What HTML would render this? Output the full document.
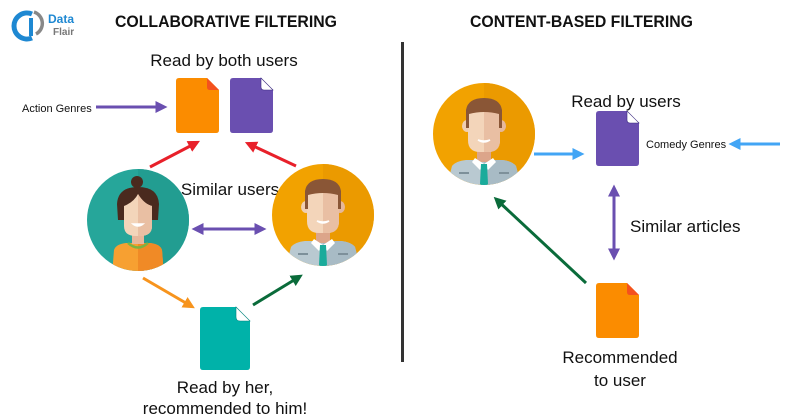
<!DOCTYPE html>
<html><head><meta charset="utf-8"><style>
html,body{margin:0;padding:0;background:#fff;}
svg{display:block;}
text{font-family:"Liberation Sans",sans-serif;fill:#111;}
</style></head><body>
<svg width="802" height="420" viewBox="0 0 802 420" xmlns="http://www.w3.org/2000/svg">
<defs>
<marker id="ap" markerWidth="4" markerHeight="4" refX="2.5" refY="2" orient="auto" markerUnits="strokeWidth"><path d="M0,0 L4,2 L0,4 z" fill="#6a4fb0"/></marker>
<marker id="aps" markerWidth="4" markerHeight="4" refX="1.5" refY="2" orient="auto-start-reverse" markerUnits="strokeWidth"><path d="M0,0 L4,2 L0,4 z" fill="#6a4fb0"/></marker>
<marker id="ar" markerWidth="4" markerHeight="4" refX="2.5" refY="2" orient="auto" markerUnits="strokeWidth"><path d="M0,0 L4,2 L0,4 z" fill="#e8202a"/></marker>
<marker id="ao" markerWidth="4" markerHeight="4" refX="2.5" refY="2" orient="auto" markerUnits="strokeWidth"><path d="M0,0 L4,2 L0,4 z" fill="#f7941d"/></marker>
<marker id="ag" markerWidth="4" markerHeight="4" refX="2.5" refY="2" orient="auto" markerUnits="strokeWidth"><path d="M0,0 L4,2 L0,4 z" fill="#0a6b3a"/></marker>
<marker id="ab" markerWidth="4" markerHeight="4" refX="2.5" refY="2" orient="auto" markerUnits="strokeWidth"><path d="M0,0 L4,2 L0,4 z" fill="#42a5f5"/></marker>
<clipPath id="cc"><circle cx="0" cy="0" r="51"/></clipPath>
<g id="man">
<circle r="51" fill="#f2a200"/>
<path d="M0,-51 A51,51 0 0 1 0,51 z" fill="#eb9a00"/>
<g clip-path="url(#cc)">
<path d="M-38,55 L-32,32 Q-28,27 -18,26 L18,26 Q28,27 32,32 L38,55 z" fill="#b9c9d1"/>
<path d="M0,26 L18,26 Q28,27 32,32 L38,55 L0,55z" fill="#a8bbc5"/>
<rect x="-7" y="12" width="14" height="16" fill="#dca58a"/>
<path d="M-9,24 L0,30 L-4,36 L-12,28z M9,24 L0,30 L4,36 L12,28z" fill="#fff"/>
<path d="M-3,30 L3,30 L4,50 L0,54 L-4,50z" fill="#1aab9b"/>
<rect x="-25" y="38" width="10" height="2" fill="#7d909a"/><rect x="15" y="38" width="10" height="2" fill="#7d909a"/>
</g>
<ellipse cx="-17" cy="-8" rx="5" ry="6" fill="#f0cfb2"/><ellipse cx="17" cy="-8" rx="5" ry="6" fill="#e6b89c"/>
<path d="M-16,-26 L16,-26 L16,6 Q16,18 4,18 L-4,18 Q-16,18 -16,6z" fill="#f3d5ba"/>
<path d="M0,-26 L16,-26 L16,6 Q16,18 4,18 L0,18z" fill="#e9bfa3"/>
<path d="M-18,-6 L-18,-24 Q-16,-36 0,-36 Q16,-36 18,-24 L18,-6 L15,-6 L15,-20 Q0,-24 -15,-20 L-15,-6z" fill="#8a5636"/>
<path d="M-6,6 Q0,10 6,6 Q0,8 -6,6z" fill="#fff" stroke="#fff" stroke-width="1.5"/>
</g>
</defs>

<!-- logo -->
<g>
<path d="M32,14 A13,13 0 1 0 32,38" fill="none" stroke="#1e88d2" stroke-width="5"/>
<path d="M31,18 L31,36" stroke="#1e88d2" stroke-width="4"/>
<path d="M34,12 A12,12 0 0 1 36,34" fill="none" stroke="#888" stroke-width="3.5"/>
<text x="48" y="23" font-size="12" font-weight="bold" style="fill:#1e88d2">Data</text>
<text x="53" y="35" font-size="10" font-weight="bold" style="fill:#777">Flair</text>
</g>

<text x="115" y="27" font-size="17" font-weight="bold" textLength="222" lengthAdjust="spacingAndGlyphs">COLLABORATIVE FILTERING</text>
<text x="470" y="27" font-size="17" font-weight="bold" textLength="223" lengthAdjust="spacingAndGlyphs">CONTENT-BASED FILTERING</text>
<rect x="401" y="42" width="3" height="320" fill="#333"/>

<!-- left -->
<text x="224" y="66" font-size="17" text-anchor="middle">Read by both users</text>
<path d="M176,81 Q176,78 179,78 L207,78 L219,90 L219,130 Q219,133 216,133 L179,133 Q176,133 176,130z" fill="#fb8c00"/>
<path d="M207,78 L219,90 L210,90 Q207,90 207,87z" fill="#f4511e"/>
<path d="M230,81 Q230,78 233,78 L261,78 L273,90 L273,130 Q273,133 270,133 L233,133 Q230,133 230,130z" fill="#6a4fb0"/>
<path d="M261,78 L273,90 L264,90 Q261,90 261,87z" fill="#fff" stroke="#3a2a80" stroke-width="0.6"/>
<text x="22" y="112" font-size="11">Action Genres</text>
<line x1="96" y1="107" x2="163" y2="107" stroke="#6a4fb0" stroke-width="3" marker-end="url(#ap)"/>
<line x1="150" y1="167" x2="196" y2="143" stroke="#e8202a" stroke-width="3" marker-end="url(#ar)"/>
<line x1="296" y1="166" x2="249" y2="144" stroke="#e8202a" stroke-width="3" marker-end="url(#ar)"/>
<text x="230" y="195" font-size="17" text-anchor="middle">Similar users</text>

<!-- woman -->
<g transform="translate(138,220)">
<circle r="51" fill="#26a69a"/>
<path d="M0,-51 A51,51 0 0 1 0,51 z" fill="#229d91"/>
<g clip-path="url(#cc)">
<path d="M-26,55 L-24,30 Q-22,24 -12,23 L12,23 Q22,24 24,30 L26,55z" fill="#f7a031"/>
<path d="M0,23 L12,23 Q22,24 24,30 L26,55 L0,55z" fill="#f08a26"/>
<path d="M-10,23 Q0,32 10,23" fill="none" stroke="#7cb342" stroke-width="2.5"/>
<rect x="-6" y="10" width="12" height="14" fill="#e6b89c"/>
</g>
<circle cx="-1" cy="-38" r="6" fill="#4a2a1e"/>
<path d="M-20,0 L-21,-16 Q-20,-33 0,-33 Q20,-33 21,-16 L20,0z" fill="#4a2a1e"/>
<path d="M-14,-14 Q-4,-18 0,-26 Q6,-16 14,-14 L14,6 Q14,16 2,16 L-2,16 Q-14,16 -14,6z" fill="#f3d5ba"/>
<path d="M0,-26 Q6,-16 14,-14 L14,6 Q14,16 2,16 L0,16z" fill="#e9bfa3"/>
<path d="M-5,4 Q0,8 5,4z" fill="#fff" stroke="#fff" stroke-width="1.5"/>
</g>
<use href="#man" transform="translate(323,215)"/>

<line x1="199" y1="229" x2="262" y2="229" stroke="#6a4fb0" stroke-width="3" marker-start="url(#aps)" marker-end="url(#ap)"/>
<line x1="143" y1="278" x2="191" y2="306" stroke="#f7941d" stroke-width="3" marker-end="url(#ao)"/>
<line x1="253" y1="305" x2="299" y2="277" stroke="#0a6b3a" stroke-width="3" marker-end="url(#ag)"/>

<path d="M200,310 Q200,307 203,307 L236,307 L250,321 L250,367 Q250,370 247,370 L203,370 Q200,370 200,367z" fill="#00b2a9"/>
<path d="M236,307 L250,321 L240,321 Q236,321 236,317z" fill="#fff" stroke="#00857d" stroke-width="0.6"/>
<text x="225" y="393" font-size="17" text-anchor="middle">Read by her,</text>
<text x="225" y="414" font-size="17" text-anchor="middle">recommended to him!</text>

<!-- right -->
<use href="#man" transform="translate(484,134)"/>
<text x="626" y="107" font-size="17" text-anchor="middle">Read by users</text>
<path d="M596,114 Q596,111 599,111 L627,111 L639,123 L639,163 Q639,166 636,166 L599,166 Q596,166 596,163z" fill="#6a4fb0"/>
<path d="M627,111 L639,123 L630,123 Q627,123 627,120z" fill="#fff" stroke="#3a2a80" stroke-width="0.6"/>
<line x1="534" y1="154" x2="580" y2="154" stroke="#42a5f5" stroke-width="3" marker-end="url(#ab)"/>
<text x="646" y="148" font-size="11">Comedy Genres</text>
<line x1="780" y1="144" x2="733" y2="144" stroke="#42a5f5" stroke-width="3" marker-end="url(#ab)"/>
<line x1="614" y1="192" x2="614" y2="256" stroke="#6a4fb0" stroke-width="3" marker-start="url(#aps)" marker-end="url(#ap)"/>
<text x="630" y="232" font-size="17">Similar articles</text>
<path d="M596,286 Q596,283 599,283 L627,283 L639,295 L639,335 Q639,338 636,338 L599,338 Q596,338 596,335z" fill="#fb8c00"/>
<path d="M627,283 L639,295 L630,295 Q627,295 627,292z" fill="#f4511e"/>
<line x1="586" y1="283" x2="497" y2="200" stroke="#0a6b3a" stroke-width="3" marker-end="url(#ag)"/>
<text x="620" y="363" font-size="17" text-anchor="middle">Recommended</text>
<text x="620" y="386" font-size="17" text-anchor="middle">to user</text>
</svg>
</body></html>
